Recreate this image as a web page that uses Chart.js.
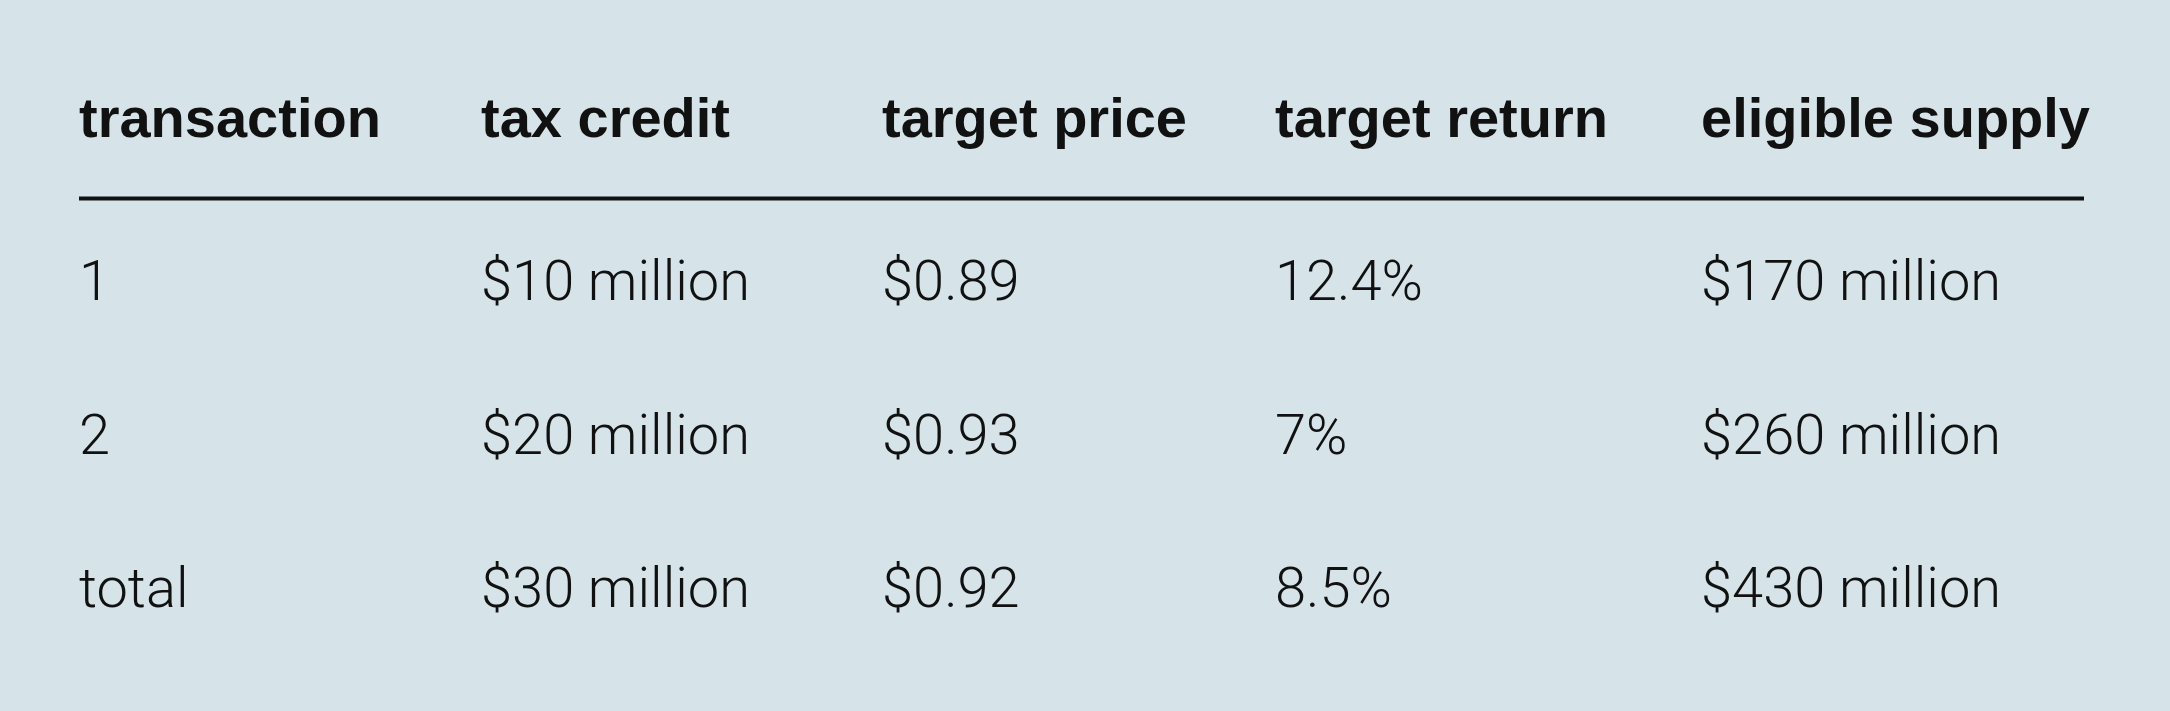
<!DOCTYPE html>
<html>
<head>
<meta charset="utf-8">
<title>Tax credit transactions</title>
<script src="https://cdn.jsdelivr.net/npm/chart.js@4.4.1/dist/chart.umd.min.js"></script>
<style>
  html, body { margin: 0; padding: 0; background: #d6e4e9; }
  #wrap { width: 2170px; height: 711px; }
</style>
</head>
<body>
<div id="wrap"><canvas id="tableChart"></canvas></div>
<script>
"use strict";

// table content
let columns = ["transaction", "tax credit", "target price", "target return", "eligible supply"];
let transactions = ["1", "2", "total"];
let taxCredit = ["$10 million", "$20 million", "$30 million"];
let targetPrice = ["$0.89", "$0.93", "$0.92"];
let targetReturn = ["12.4%", "7%", "8.5%"];
let eligibleSupply = ["$170 million", "$260 million", "$430 million"];

// layout: left edge of each column as a share of the rule width
let colStart = [0, 0.2005, 0.4005, 0.5965, 0.809];
let headerRow = -0.063;
let ruleRow = 0.337;

let cells = [transactions, taxCredit, targetPrice, targetReturn, eligibleSupply];

let tableText = {
  id: "tableText",
  afterDatasetsDraw(chart) {
    let ctx = chart.ctx;
    let x = chart.scales.x;
    let y = chart.scales.y;
    ctx.save();
    ctx.textAlign = "left";
    ctx.textBaseline = "alphabetic";
    ctx.fillStyle = "#111111";

    // header
    ctx.font = "bold 56px 'Liberation Sans', Arial, sans-serif";
    columns.forEach((label, c) => {
      ctx.fillText(label, x.getPixelForValue(colStart[c]), y.getPixelForValue(headerRow));
    });

    // rule under header
    let ry = y.getPixelForValue(ruleRow);
    ctx.strokeStyle = "#111111";
    ctx.lineWidth = 4;
    ctx.beginPath();
    ctx.moveTo(x.left, ry);
    ctx.lineTo(x.right, ry);
    ctx.stroke();

    // body cells, one dataset per column
    ctx.font = "300 56px Roboto, 'Liberation Sans', sans-serif";
    chart.data.datasets.forEach((ds, c) => {
      let meta = chart.getDatasetMeta(c);
      meta.data.forEach((pt, r) => {
        ctx.fillText(ds.cellText[r], pt.x, pt.y);
      });
    });
    ctx.restore();
  },
};

let ctxTable = document.getElementById("tableChart").getContext("2d");
let tableChart = new Chart(ctxTable, {
  type: "scatter",
  data: {
    datasets: cells.map((col, c) => ({
      label: columns[c],
      cellText: col,
      data: col.map((v, r) => ({ x: colStart[c], y: r + 1 })),
      pointRadius: 0,
      pointHoverRadius: 0,
    })),
  },
  options: {
    responsive: true,
    maintainAspectRatio: false,
    animation: false,
    events: [],
    layout: {
      padding: { left: 79, right: 86, top: 70, bottom: 27 },
    },
    scales: {
      x: { type: "linear", min: 0, max: 1, display: false },
      y: { type: "linear", min: -0.5, max: 3.5, reverse: true, display: false },
    },
    plugins: {
      legend: { display: false },
      tooltip: { enabled: false },
    },
  },
  plugins: [tableText],
});
</script>
</body>
</html>
